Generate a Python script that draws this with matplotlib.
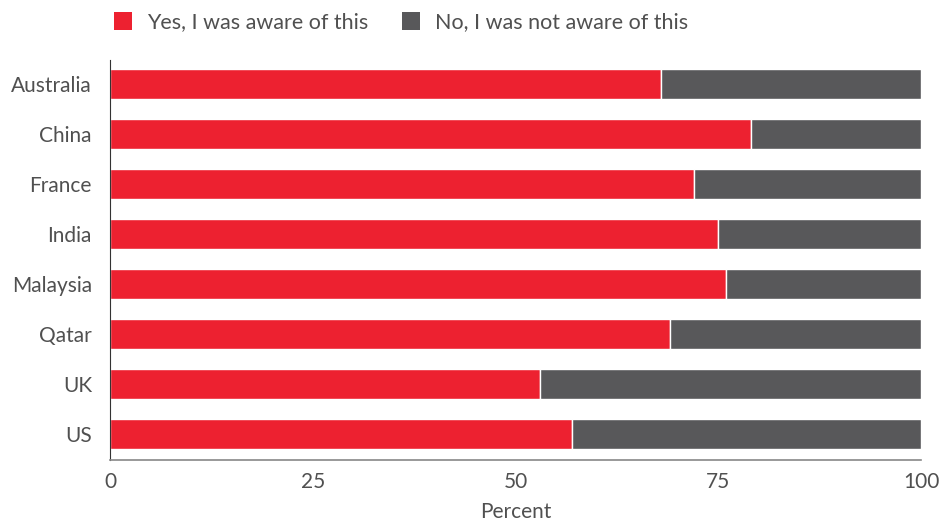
import matplotlib
matplotlib.use("Agg")
import matplotlib.pyplot as plt
from matplotlib.patches import Patch

plt.rcParams['font.family'] = ['Lato', 'DejaVu Sans']

countries = ["Australia", "China", "France", "India", "Malaysia", "Qatar", "UK", "US"]
aware = [68, 79, 72, 75, 76, 69, 53, 57]
not_aware = [100 - v for v in aware]

RED = "#ED2130"
GREY = "#58585A"
TXT = "#505050"

fig = plt.figure(figsize=(9.44, 5.21), dpi=100)
ax = fig.add_axes([110/944, 1 - 460/521, (921-110)/944, 400/521])

pos = range(len(countries))
ax.barh(pos, aware, height=0.6, color=RED, edgecolor="white", linewidth=1)
ax.barh(pos, not_aware, left=aware, height=0.6, color=GREY, edgecolor="white", linewidth=1)

ax.set_xlim(0, 100)
ax.set_ylim(7.52, -0.48)
ax.set_yticks(list(pos))
ax.set_yticklabels(countries)
ax.set_xticks([0, 25, 50, 75, 100])
ax.tick_params(axis='both', length=0, labelsize=15, labelcolor=TXT)
ax.tick_params(axis='y', pad=13)
ax.tick_params(axis='x', pad=9)
ax.set_xlabel("Percent", fontsize=15, color=TXT, labelpad=7)

for s in ["top", "right"]:
    ax.spines[s].set_visible(False)
ax.spines["left"].set_color("#333333")
ax.spines["bottom"].set_color("#888888")
ax.spines["left"].set_linewidth(0.8)
ax.spines["bottom"].set_linewidth(1.2)

handles = [Patch(facecolor=RED, label="Yes, I was aware of this"),
           Patch(facecolor=GREY, label="No, I was not aware of this")]
fig.legend(handles=handles, loc="center left", bbox_to_anchor=(95/944, 1 - 22/521),
           ncol=2, frameon=False, fontsize=15.5, labelcolor=TXT,
           handlelength=0.8, handleheight=0.9, handletextpad=0.7, columnspacing=1.6)

plt.savefig("out.png", dpi=100)
plt.close()
